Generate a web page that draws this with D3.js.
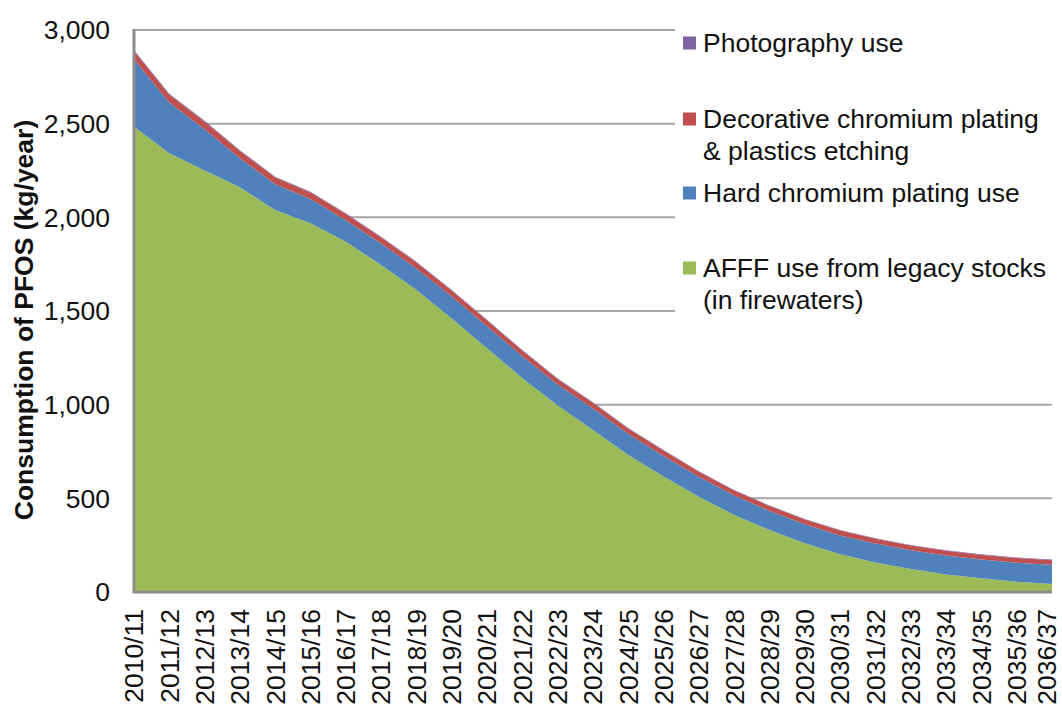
<!DOCTYPE html>
<html lang="en">

<head>
  <meta charset="UTF-8">
  <title>PFOS consumption</title>
  <script src="https://d3js.org/d3.v7.min.js"></script>
  <style>
    html,
    body {
      padding: 0;
      margin: 0;
      background: #fff;
    }

    text {
      font-family: "Liberation Sans", Arial, sans-serif;
      fill: #111;
    }
  </style>
</head>

<body>
  <script>
    const width = 1062;
    const height = 704;

    const years = [
      "2010/11", "2011/12", "2012/13", "2013/14", "2014/15", "2015/16", "2016/17",
      "2017/18", "2018/19", "2019/20", "2020/21", "2021/22", "2022/23", "2023/24",
      "2024/25", "2025/26", "2026/27", "2027/28", "2028/29", "2029/30", "2030/31",
      "2031/32", "2032/33", "2033/34", "2034/35", "2035/36", "2036/37"
    ];

    // kg/year
    const afff = [2484, 2342, 2250, 2160, 2039, 1968, 1870, 1745, 1612, 1460, 1301, 1141, 995,
      865, 731, 616, 509, 411, 331, 260, 201, 158, 123, 94, 73, 55, 43];
    const hardChrome = [359, 271, 220, 156, 138, 130, 114, 115, 115, 117, 118, 117, 112,
      115, 113, 110, 106, 104, 102, 101, 101, 101, 100, 101, 100, 101, 102];
    const decorative = [45, 42, 40, 38, 36, 35, 34, 33, 32, 31, 30, 30, 29,
      29, 28, 28, 27, 27, 26, 26, 26, 25, 25, 25, 25, 25, 25];
    const photography = [5, 5, 5, 4, 4, 4, 4, 4, 4, 4, 4, 4, 4,
      4, 4, 4, 3, 3, 3, 3, 3, 3, 3, 3, 3, 3, 3];

    const yTicks = [0, 500, 1000, 1500, 2000, 2500, 3000];

    const seriesKeys = ["afff", "hard", "deco", "photo"];
    const colors = { afff: "#9bbb59", hard: "#4f81bd", deco: "#c0504d", photo: "#8064a2" };

    const legendItems = [
      { key: "photo", lines: ["Photography use"] },
      { key: "deco", lines: ["Decorative chromium plating", "& plastics etching"] },
      { key: "hard", lines: ["Hard chromium plating use"] },
      { key: "afff", lines: ["AFFF use from legacy stocks", "(in firewaters)"] },
    ];

    const rows = years.map((y, i) => ({
      year: y,
      afff: afff[i],
      hard: hardChrome[i],
      deco: decorative[i],
      photo: photography[i],
    }));

    const plot = { left: 134, right: 1052, top: 30, bottom: 592 };

    const x = d3.scalePoint()
      .domain(years)
      .range([plot.left, plot.right]);

    const y = d3.scaleLinear()
      .domain([0, 3000])
      .range([plot.bottom, plot.top]);

    const svg = d3.select("body").append("svg")
      .attr("width", width)
      .attr("height", height);

    // gridlines
    svg.append("g")
      .selectAll("line")
      .data(yTicks.filter(d => d > 0))
      .join("line")
      .attr("x1", plot.left)
      .attr("x2", plot.right)
      .attr("y1", d => y(d))
      .attr("y2", d => y(d))
      .attr("stroke", "#a6a6a6")
      .attr("stroke-width", 2);

    const stack = d3.stack().keys(seriesKeys);
    const layers = stack(rows);

    const area = d3.area()
      .x(d => x(d.data.year))
      .y0(d => y(d[0]))
      .y1(d => y(d[1]));

    svg.append("g")
      .selectAll("path")
      .data(layers)
      .join("path")
      .attr("fill", d => colors[d.key])
      .attr("d", area);

    // axes lines
    svg.append("line")
      .attr("x1", plot.left - 1.5).attr("x2", plot.right)
      .attr("y1", plot.bottom).attr("y2", plot.bottom)
      .attr("stroke", "#8c8c8c")
      .attr("stroke-width", 3);

    svg.append("line")
      .attr("x1", plot.left).attr("x2", plot.left)
      .attr("y1", plot.top - 1).attr("y2", plot.bottom)
      .attr("stroke", "#8c8c8c")
      .attr("stroke-width", 3);

    // y tick labels
    svg.append("g")
      .selectAll("text")
      .data(yTicks)
      .join("text")
      .attr("x", 110)
      .attr("y", d => y(d))
      .attr("dy", "0.35em")
      .attr("text-anchor", "end")
      .style("font-size", "26.5px")
      .text(d3.format(","));

    // x tick labels (last one nudged in so it isn't clipped)
    svg.append("g")
      .selectAll("text")
      .data(years)
      .join("text")
      .attr("transform", d => `translate(${Math.min(x(d), 1047)},609) rotate(-90)`)
      .attr("dy", "0.35em")
      .attr("text-anchor", "end")
      .style("font-size", "26.5px")
      .text(d => d);

    svg.append("text")
      .attr("transform", "translate(24,320) rotate(-90)")
      .attr("dy", "0.35em")
      .attr("text-anchor", "middle")
      .style("font-size", "26.5px")
      .style("font-weight", "bold")
      .text("Consumption of PFOS (kg/year)");

    // legend
    const legend = svg.append("g");
    legend.append("rect")
      .attr("x", 675).attr("y", 20)
      .attr("width", width - 675).attr("height", 302)
      .attr("fill", "#fff");

    const legendTop = [43, 119, 193, 268];
    legendItems.forEach((item, i) => {
      legend.append("rect")
        .attr("x", 683)
        .attr("y", legendTop[i] - 6.5)
        .attr("width", 13)
        .attr("height", 13)
        .attr("fill", colors[item.key]);

      legend.append("text")
        .attr("x", 703)
        .attr("y", legendTop[i])
        .style("font-size", "26.5px")
        .selectAll("tspan")
        .data(item.lines)
        .join("tspan")
        .attr("x", 703)
        .attr("dy", (d, j) => j === 0 ? "0.35em" : "1.2em")
        .text(d => d);
    });
  </script>
</body>

</html>
